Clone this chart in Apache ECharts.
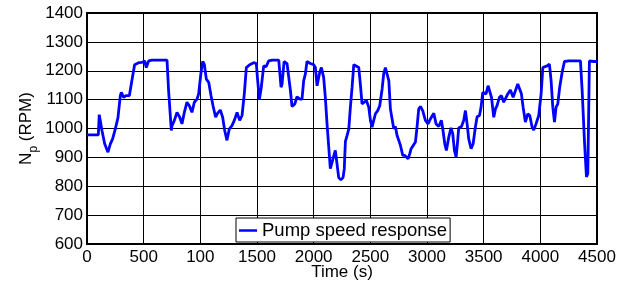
<!DOCTYPE html>
<html>
<head>
<meta charset="utf-8">
<script src="https://cdn.jsdelivr.net/npm/echarts@6/dist/echarts.min.js"></script>
<style>
  html, body { margin: 0; padding: 0; background: #fff; }
  #main { width: 629px; height: 285px; }
</style>
</head>
<body>
<div id="main"></div>
<script>
// 时间 (s)
const timeSec = [
  0, 100, 108, 132, 156, 185, 206, 226, 250, 273, 294, 303, 323, 344, 374, 391, 420, 456, 485, 509,
  523, 544, 573, 706, 720, 744, 750, 771, 794, 818, 838, 859, 882, 903, 926, 947, 971, 985, 1006, 1021,
  1035, 1053, 1074, 1094, 1112, 1135, 1153, 1176, 1197, 1215, 1235, 1256, 1279, 1300, 1324, 1347, 1368, 1388, 1406, 1435,
  1471, 1494, 1505, 1521, 1538, 1559, 1580, 1603, 1633, 1692, 1704, 1712, 1721, 1730, 1739, 1765, 1780, 1795, 1809, 1833,
  1853, 1877, 1897, 1912, 1927, 1941, 1971, 2000, 2015, 2030, 2044, 2053, 2068, 2088, 2103, 2118, 2133, 2147, 2162, 2183,
  2191, 2206, 2221, 2240, 2259, 2270, 2280, 2295, 2310, 2324, 2339, 2354, 2368, 2398, 2412, 2427, 2442, 2465, 2486, 2501,
  2515, 2530, 2545, 2565, 2583, 2604, 2618, 2633, 2648, 2663, 2677, 2692, 2707, 2721, 2736, 2751, 2766, 2786, 2804, 2818,
  2833, 2848, 2860, 2877, 2898, 2912, 2927, 2942, 2962, 2986, 3009, 3030, 3060, 3080, 3104, 3127, 3139, 3157, 3171, 3192,
  3212, 3227, 3242, 3257, 3271, 3280, 3304, 3324, 3339, 3354, 3368, 3389, 3407, 3427, 3442, 3463, 3477, 3492, 3507, 3521,
  3539, 3554, 3569, 3589, 3604, 3618, 3639, 3657, 3677, 3692, 3713, 3736, 3760, 3780, 3801, 3818, 3833, 3848, 3868, 3889,
  3907, 3927, 3942, 3962, 3986, 4007, 4022, 4039, 4060, 4080, 4095, 4110, 4125, 4139, 4154, 4171, 4192, 4213, 4251, 4354,
  4369, 4389, 4407, 4419, 4433, 4448, 4472, 4500
];

// 泵转速 (RPM)
const pumpSpeed = [
  978, 978, 1048, 993, 947, 918, 947, 964, 999, 1037, 1114, 1125, 1108, 1114, 1114, 1154, 1221, 1228, 1229, 1234,
  1211, 1234, 1237, 1237, 1131, 993, 1010, 1028, 1056, 1039, 1016, 1056, 1091, 1079, 1056, 1091, 1102, 1120, 1194, 1232,
  1223, 1171, 1160, 1114, 1079, 1039, 1053, 1064, 1039, 993, 959, 999, 1010, 1028, 1056, 1028, 1045, 1120, 1211, 1221,
  1228, 1225, 1170, 1100, 1143, 1217, 1214, 1234, 1237, 1237, 1234, 1143, 1154, 1154, 1232, 1225, 1221, 1131, 1076, 1085,
  1110, 1102, 1102, 1166, 1189, 1232, 1225, 1221, 1211, 1148, 1154, 1194, 1211, 1177, 1108, 1016, 936, 861, 855, 913,
  924, 878, 830, 822, 830, 860, 955, 976, 999, 1074, 1143, 1221, 1221, 1211, 1154, 1085, 1091, 1097, 1074, 1028,
  1005, 1028, 1051, 1062, 1079, 1137, 1189, 1211, 1211, 1166, 1068, 1033, 999, 1007, 976, 959, 941, 907, 907, 913,
  895, 913, 930, 930, 953, 1005, 1068, 1076, 1062, 1028, 1016, 1033, 1053, 1016, 1007, 1028, 999, 947, 924, 970,
  1002, 982, 924, 901, 959, 1002, 1007, 1028, 1062, 1016, 964, 930, 947, 1005, 1041, 1045, 1074, 1125, 1131, 1120,
  1148, 1148, 1108, 1039, 1068, 1079, 1108, 1114, 1091, 1097, 1120, 1133, 1108, 1131, 1154, 1156, 1120, 1074, 1022, 1051,
  1045, 1005, 995, 1016, 1045, 1120, 1211, 1217, 1217, 1223, 1166, 1074, 1022, 1074, 1085, 1143, 1194, 1232, 1234, 1234,
  1131, 959, 832, 844, 1234, 1229, 1232, 1232
];

// 刻度
const xTicks = [0, 500, 1000, 1500, 2000, 2500, 3000, 3500, 4000, 4500];
const xTickLabels = ["0", "500", "100", "1500", "2000", "2500", "3000", "3500", "4000", "4500"];
const yTicks = [600, 700, 800, 900, 1000, 1100, 1200, 1300, 1400];

const seriesName = "Pump speed response";
const fontName = "'Liberation Sans', Arial, Helvetica, sans-serif";

const chart = echarts.init(document.getElementById("main"), null, { renderer: "canvas" });

const points = [];
for (let i = 0; i < timeSec.length; i++) {
  points.push([timeSec[i], pumpSpeed[i]]);
}

const option = {
  animation: false,
  backgroundColor: "#fff",
  grid: {
    left: 87,
    right: 32,
    top: 13,
    bottom: 41,
    containLabel: false,
    outerBoundsMode: "none",
    show: true,
    borderColor: "#000",
    borderWidth: 2,
    backgroundColor: "transparent"
  },
  legend: {
    left: 236,
    top: 218,
    data: [{ name: seriesName, icon: "rect" }],
    itemWidth: 18,
    itemHeight: 2.5,
    itemGap: 0,
    padding: [3, 3, 2, 3],
    borderColor: "#000",
    borderWidth: 1,
    backgroundColor: "#fff",
    textStyle: {
      color: "#000",
      fontSize: 18.5,
      fontFamily: fontName
    }
  },
  xAxis: {
    type: "value",
    min: xTicks[0],
    max: xTicks[xTicks.length - 1],
    interval: 500,
    name: "Time (s)",
    nameLocation: "middle",
    nameMoveOverlap: false,
    nameGap: 20,
    nameTextStyle: { color: "#000", fontSize: 17, fontFamily: fontName },
    axisLine: { show: true, lineStyle: { color: "#000", width: 2 } },
    axisTick: { show: false },
    axisLabel: {
      color: "#000",
      fontSize: 17,
      fontFamily: fontName,
      margin: 5,
      formatter: function (v) {
        const idx = xTicks.indexOf(v);
        return idx >= 0 ? xTickLabels[idx] : "";
      }
    },
    splitLine: { show: true, lineStyle: { color: "#000", width: 1 } }
  },
  yAxis: {
    type: "value",
    min: yTicks[0],
    max: yTicks[yTicks.length - 1],
    interval: 100,
    name: "{n|N}{s|p}{n| (RPM)}",
    nameLocation: "middle",
    nameMoveOverlap: false,
    nameGap: 47,
    nameRotate: 90,
    nameTextStyle: {
      color: "#000",
      fontFamily: fontName,
      rich: {
        n: { fontSize: 17, fontFamily: fontName, color: "#000", verticalAlign: "top", lineHeight: 22 },
        s: { fontSize: 12, fontFamily: fontName, color: "#000", verticalAlign: "bottom", lineHeight: 22, padding: [12, 0, 0, 0] }
      }
    },
    axisLine: { show: true, lineStyle: { color: "#000", width: 2 } },
    axisTick: { show: false },
    axisLabel: {
      color: "#000",
      fontSize: 17,
      fontFamily: fontName,
      margin: 4,
      formatter: function (v) {
        return String(v);
      }
    },
    splitLine: { show: true, lineStyle: { color: "#000", width: 1 } }
  },
  series: [
    {
      name: seriesName,
      type: "line",
      data: points,
      showSymbol: false,
      symbol: "none",
      smooth: false,
      color: "#0000ff",
      lineStyle: { color: "#0000ff", width: 2.8 },
      z: 3
    }
  ]
};

chart.setOption(option);
</script>
</body>
</html>
